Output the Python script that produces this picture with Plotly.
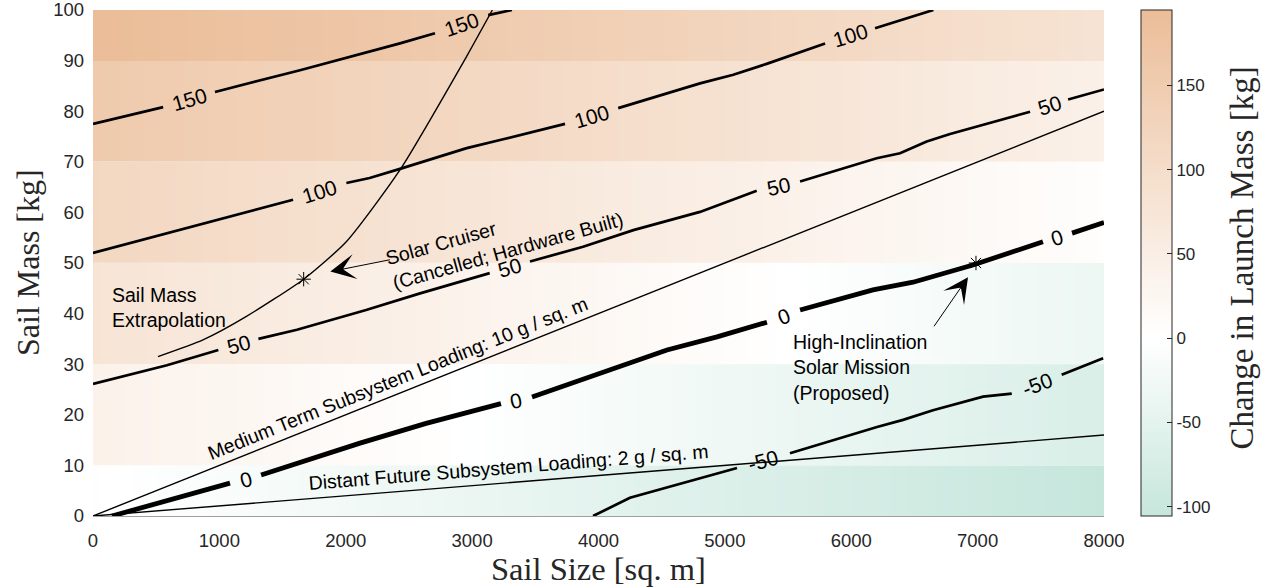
import math
import plotly.graph_objects as go

# ---------------------------------------------------------------- data
# Sail size columns of the shaded map (m^2)
size_cols = [0, 1000, 2000, 3000, 4000, 5000, 6000, 7000, 8000]
# Sail-mass bands of the shaded map (kg)
band_lo = [0, 10, 30, 50, 70, 90]
band_hi = [10, 30, 50, 70, 90, 100]
# Change in launch mass (kg) across each band, one value per size column
dm_band_0 = [2, -11, -24, -37, -51, -64, -78, -92, -105.5]
dm_band_20 = [40, 27, 13, -1, -15, -29, -42, -56, -70]
dm_band_40 = [79, 65, 51, 36, 22, 7, -7, -21, -35]
dm_band_60 = [117, 103, 89, 75, 61, 47, 33, 18, 4]
dm_band_80 = [156, 142, 128, 115, 101, 87, 72, 57, 42]
dm_band_100 = [194.8, 181, 168, 154, 140, 125, 110, 96, 82]
dm_min, dm_max = -105.5, 194.8

# Iso-lines of change in launch mass; None marks the gap left for a label
c150_x = [0, 555, None, 965, 1638, 2429, 2706, None, 3127, 3315]
c150_m = [77.5, 80.8, None, 83.8, 88.1, 93.4, 95.4, None, 99, 100]

c100_x = [0, 1002, 1583, None, 2005, 2189, 2429, 2957, 3221, 3735, None,
          4156, 4803, 5067, 5336, 5793, None, 6188, 6650]
c100_m = [52.0, 58.6, 62.5, None, 65.8, 66.8, 68.6, 72.7, 74.3, 77.5, None,
          80.6, 85.5, 87.2, 89.4, 93.4, None, 96.4, 100]

c50_x = [0, 585, 992, None, 1309, 1614, 2161, 2588, 3139, None,
         3458, 3878, 4276, 4803, 5252, None,
         5595, 6201, 6386, 6597, 6782, 7177, 7415, None, 7716, 8000]
c50_m = [26.1, 29.8, 32.8, None, 35.0, 36.8, 40.7, 44.0, 48.0, None,
         50.3, 53.2, 56.5, 60.1, 64.3, None,
         66.1, 70.7, 71.7, 74.0, 75.5, 78.3, 79.9, None, 82.3, 84.3]

c0_x = [150, 1084, None, 1330, 2113, 2636, 3228, None,
        3474, 4146, 4542, 4938, 5333, None,
        5595, 6172, 6489, 6963, 7517, None, 7747, 8000]
c0_m = [0, 6.5, None, 8.1, 14.4, 18.3, 22.2, None,
        23.5, 29.2, 32.8, 35.4, 38.3, None,
        40.7, 44.7, 46.2, 49.6, 54.2, None, 55.9, 58.0]

cm50_x = [3957, 4249, 5096, None, 5515, 5753, 6204, 6410, 6647, 7043, 7270,
          None, 7665, 7993]
cm50_m = [0, 3.6, 9.5, None, 12.4, 14.2, 17.6, 19.0, 20.9, 23.6, 24.2,
          None, 27.9, 31.2]

# Subsystem-loading reference lines (sail size m^2, sail mass kg)
medium_term_x = [0, 8000]
medium_term_m = [0, 80]
distant_future_x = [0, 8000]
distant_future_m = [0, 16]

# Sail-mass extrapolation curve
extrap_x = [514, 870, 1211, 1667, 2004, 2429, 2958, 3160]
extrap_m = [31.5, 34.8, 39.4, 46.8, 54.2, 68.4, 90.9, 100]

# Missions marked on the map
mission_x = [1667, 6987]
mission_m = [46.8, 50.0]

# Axis ticks
x_ticks = [0, 1000, 2000, 3000, 4000, 5000, 6000, 7000, 8000]
x_tick_text = ["0", "1000", "2000", "3000", "4000", "5000", "6000", "7000", "8000"]
y_ticks = [0, 10, 20, 30, 40, 50, 60, 70, 80, 90, 100]
cbar_ticks = [-100, -50, 0, 50, 100, 150]
cbar_tick_text = ["-100", "-50", "0", "50", "100", "150"]

# ---------------------------------------------------------------- layout constants
W, H = 1265, 588
ML, MR, MT, MB = 93, 161, 10, 72
PW, PH = W - ML - MR, H - MT - MB
PX_PER_X = PW / 8000.0
PX_PER_M = PH / 100.0

SANS = "Liberation Sans, Arial, sans-serif"
SERIF = "Liberation Serif, Times New Roman, serif"
INK = "#262626"

# ---------------------------------------------------------------- shaded map
# One single-row heatmap per mass band: colour varies smoothly with sail size,
# band edges stay sharp.
white_pos = (0 - dm_min) / (dm_max - dm_min)
colorscale = [[0.0, "#c6e6dc"], [white_pos, "#ffffff"], [1.0, "#ebbd98"]]
rows = [dm_band_0, dm_band_20, dm_band_40, dm_band_60, dm_band_80, dm_band_100]

fig = go.Figure()
for k, (lo, hi, row) in enumerate(zip(band_lo, band_hi, rows)):
    fig.add_trace(go.Heatmap(
        x=size_cols, y=[lo, hi], z=[row],
        zmin=dm_min, zmax=dm_max, zsmooth="best",
        colorscale=colorscale, hoverinfo="skip",
        showscale=(k == 0),
        colorbar=dict(
            thickness=31, len=1, lenmode="fraction",
            y=0, yanchor="bottom", ypad=0,
            x=(1141 - ML) / PW, xanchor="left", xpad=0,
            outlinewidth=1, outlinecolor=INK,
            tickvals=cbar_ticks, ticktext=cbar_tick_text,
            ticks="inside", ticklen=5, tickcolor=INK,
            tickfont=dict(family=SANS, size=17, color=INK),
        ),
    ))

# ---------------------------------------------------------------- reference lines
for xs, ms in [(medium_term_x, medium_term_m), (distant_future_x, distant_future_m)]:
    fig.add_trace(go.Scatter(x=xs, y=ms, mode="lines",
                             line=dict(color="black", width=1.4),
                             hoverinfo="skip", showlegend=False))

fig.add_trace(go.Scatter(x=extrap_x, y=extrap_m, mode="lines",
                         line=dict(color="black", width=1.4, shape="spline", smoothing=0.6),
                         hoverinfo="skip", showlegend=False))

# ---------------------------------------------------------------- iso-lines
contours = [
    (150, c150_x, c150_m, 2.7),
    (100, c100_x, c100_m, 2.7),
    (50, c50_x, c50_m, 2.7),
    (0, c0_x, c0_m, 4.8),
    (-50, cm50_x, cm50_m, 2.7),
]
annotations = []
for level, xs, ms, lw in contours:
    fig.add_trace(go.Scatter(x=xs, y=ms, mode="lines", connectgaps=False,
                             line=dict(color="black", width=lw),
                             hoverinfo="skip", showlegend=False))
    for i, xv in enumerate(xs):
        if xv is None:
            x0, m0 = xs[i - 1], ms[i - 1]
            x1, m1 = xs[i + 1], ms[i + 1]
            ang = -math.degrees(math.atan2((m1 - m0) * PX_PER_M, (x1 - x0) * PX_PER_X))
            annotations.append(dict(
                x=(x0 + x1) / 2, y=(m0 + m1) / 2, xref="x", yref="y",
                text=str(level), showarrow=False, textangle=ang,
                xanchor="center", yanchor="middle",
                font=dict(family=SANS, size=21, color="black"),
            ))

# mission markers
fig.add_trace(go.Scatter(x=mission_x, y=mission_m, mode="markers",
                         marker=dict(symbol="asterisk-open", size=12, color="black",
                                     line=dict(color="black", width=1)),
                         hoverinfo="skip", showlegend=False))

# ---------------------------------------------------------------- text labels
def line_angle(xs, ms):
    return -math.degrees(math.atan2((ms[-1] - ms[0]) * PX_PER_M,
                                    (xs[-1] - xs[0]) * PX_PER_X))

ANN_FONT = dict(family=SANS, size=19.5, color="black")
ARROW = dict(text="", showarrow=True, arrowhead=3, arrowsize=4.2, arrowwidth=1,
             arrowcolor="black", standoff=0, startstandoff=0,
             xref="x", yref="y", axref="x", ayref="y")
annotations += [
    dict(x=134, y=41.2, xref="x", yref="y", text="Sail Mass<br>Extrapolation",
         showarrow=False, xanchor="left", yanchor="middle", align="left", font=ANN_FONT),
    dict(x=3250, y=54.9, xref="x", yref="y",
         text="Solar Cruiser<br>(Cancelled; Hardware Built)",
         showarrow=False, xanchor="center", yanchor="middle", align="left",
         textangle=-15.7, font=ANN_FONT),
    dict(x=5521, y=29.25, xref="x", yref="y",
         text="High-Inclination<br>Solar Mission<br>(Proposed)",
         showarrow=False, xanchor="left", yanchor="middle", align="left", font=ANN_FONT),
    dict(x=2413, y=27.3, xref="x", yref="y",
         text="Medium Term Subsystem Loading: 10 g / sq. m",
         showarrow=False, xanchor="center", yanchor="middle",
         textangle=line_angle(medium_term_x, medium_term_m), font=ANN_FONT),
    dict(x=3284, y=9.74, xref="x", yref="y",
         text="Distant Future Subsystem Loading: 2 g / sq. m",
         showarrow=False, xanchor="center", yanchor="middle",
         textangle=line_angle(distant_future_x, distant_future_m), font=ANN_FONT),
    # arrows pointing at the missions
    dict(x=1878, y=48.3, ax=2361, ay=50.7, **ARROW),
    dict(x=6924, y=47.2, ax=6647, ay=37.2, **ARROW),
    # axis titles
    dict(x=0.5, y=-(569 - (H - MB)) / PH, xref="paper", yref="paper",
         text="Sail Size [sq. m]", showarrow=False, xanchor="center", yanchor="middle",
         font=dict(family=SERIF, size=32.5, color=INK)),
    dict(x=(28 - ML) / PW, y=0.5, xref="paper", yref="paper",
         text="Sail Mass [kg]", showarrow=False, xanchor="center", yanchor="middle",
         textangle=-90, font=dict(family=SERIF, size=32, color=INK)),
    dict(x=(1242 - ML) / PW, y=0.509, xref="paper", yref="paper",
         text="Change in Launch Mass [kg]", showarrow=False,
         xanchor="center", yanchor="middle", textangle=-90,
         font=dict(family=SERIF, size=33, color=INK)),
]

fig.update_layout(
    width=W, height=H,
    margin=dict(l=ML, r=MR, t=MT, b=MB, pad=0, autoexpand=False),
    paper_bgcolor="white", plot_bgcolor="white",
    showlegend=False,
    annotations=annotations,
    xaxis=dict(range=[0, 8000], tickvals=x_ticks, ticktext=x_tick_text,
               showgrid=False, zeroline=False, showline=True,
               linecolor="#a0a0a0", linewidth=1, ticks="",
               ticklabelstandoff=8, ticklabeloverflow="allow",
               tickfont=dict(family=SANS, size=18.5, color=INK)),
    yaxis=dict(range=[0, 100], tickvals=y_ticks,
               showgrid=False, zeroline=False, showline=False, ticks="",
               ticklabelstandoff=8, ticklabeloverflow="allow",
               tickfont=dict(family=SANS, size=18.5, color=INK)),
)

fig.write_html("out.html")
